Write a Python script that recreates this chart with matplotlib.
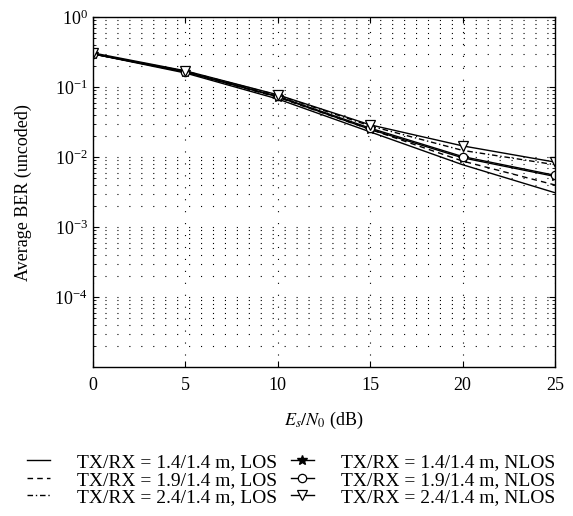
import matplotlib
matplotlib.use('Agg')
import matplotlib.pyplot as plt
from matplotlib.ticker import LogLocator, NullFormatter

plt.rcParams['font.family'] = ['Liberation Serif', 'DejaVu Serif']
plt.rcParams['mathtext.fontset'] = 'stix'
plt.rcParams['font.size'] = 12
plt.rcParams['lines.scale_dashes'] = False

# Es/N0 (dB)
snr = [0, 5, 10, 15, 20, 25]

# BER curves
ber_los_14 = [0.30, 0.160, 0.068, 0.023, 0.0078, 0.0031]
ber_los_19 = [0.30, 0.165, 0.072, 0.025, 0.0088, 0.0040]
ber_los_24 = [0.30, 0.170, 0.077, 0.028, 0.0125, 0.0078]
ber_nlos_14 = [0.30, 0.165, 0.073, 0.025, 0.0098, 0.0053]
ber_nlos_19 = [0.30, 0.167, 0.074, 0.026, 0.0102, 0.0055]
ber_nlos_24 = [0.31, 0.172, 0.078, 0.029, 0.0145, 0.0085]

labels = ['TX/RX = 1.4/1.4 m, LOS', 'TX/RX = 1.9/1.4 m, LOS', 'TX/RX = 2.4/1.4 m, LOS',
          'TX/RX = 1.4/1.4 m, NLOS', 'TX/RX = 1.9/1.4 m, NLOS', 'TX/RX = 2.4/1.4 m, NLOS']

fig = plt.figure(figsize=(5.73, 5.16), dpi=100)
ax = fig.add_axes([0.1618, 0.2888, 0.8068, 0.6777])

lw = 1.0
ax.semilogy(snr, ber_los_14, 'k-', lw=lw, label=labels[0])
ax.semilogy(snr, ber_los_19, 'k', ls=(0, (4, 3)), lw=lw, label=labels[1])
ax.semilogy(snr, ber_los_24, 'k', ls=(0, (4, 2, 1, 2)), lw=lw, label=labels[2])
ax.semilogy(snr, ber_nlos_14, 'k-', marker='*', ms=7, lw=lw, label=labels[3])
ax.semilogy(snr, ber_nlos_19, 'k-', marker='o', ms=6, mfc='white', mew=0.9, lw=lw, label=labels[4])
ax.semilogy(snr, ber_nlos_24, 'k-', marker='v', ms=7, mfc='white', mew=0.9, lw=lw, label=labels[5])

ax.set_xlim(0, 25)
ax.set_ylim(1e-5, 1)
ax.set_xticks([0, 5, 10, 15, 20, 25])
ax.yaxis.set_major_locator(LogLocator(base=10, numticks=10))
ax.yaxis.set_minor_locator(LogLocator(base=10, subs=range(2, 10), numticks=20))
ax.yaxis.set_minor_formatter(NullFormatter())
ax.set_yticks([1, 1e-1, 1e-2, 1e-3, 1e-4])

grid_ls = (0, (0.8, 7.8))
ax.grid(True, which='major', axis='both', color='k', lw=0.8, ls=grid_ls)
ax.grid(True, which='minor', axis='y', color='k', lw=0.8, ls=grid_ls)

ax.tick_params(which='both', direction='in', top=True, right=True)
ax.tick_params(which='major', length=4, labelsize=13)
ax.tick_params(axis='x', which='major', pad=7)
ax.tick_params(which='minor', length=2)
for s in ax.spines.values():
    s.set_linewidth(1.0)

ax.set_xlabel('$E_s/N_0$ (dB)', fontsize=13, labelpad=12)
ax.set_ylabel('Average BER (uncoded)', fontsize=13, labelpad=16)

fig.legend(loc='lower center', bbox_to_anchor=(0.508, 0.0), ncol=2, frameon=False,
           fontsize=14, handlelength=1.2, columnspacing=0.7, labelspacing=0.0,
           handletextpad=1.4, borderaxespad=0.1)

fig.savefig('out.png', dpi=100)
